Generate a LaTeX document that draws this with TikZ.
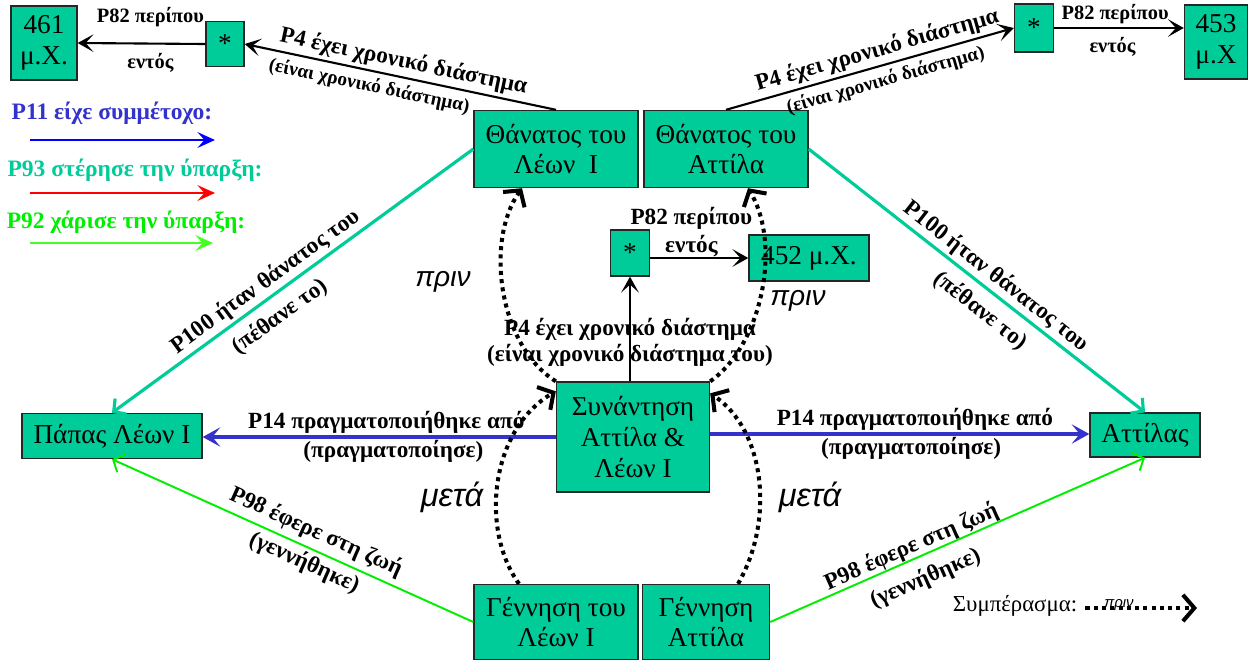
\documentclass[tikz,border=0pt]{standalone}
\usepackage{fontspec}
\setmainfont{Liberation Serif}
\newfontfamily\sansf{Liberation Sans}
\usetikzlibrary{arrows.meta,calc}

\definecolor{cidoc}{HTML}{00CC99}
\definecolor{pblue}{HTML}{3333CC}
\definecolor{pgreen}{HTML}{00EE00}
\definecolor{lblue}{HTML}{0000FF}
\definecolor{lred}{HTML}{FF0000}
\definecolor{lgreen}{HTML}{44FF22}

\tikzset{
  box/.style={draw=black!85, fill=cidoc, line width=0.8pt, inner sep=0pt,
    align=center, font=\fontsize{15.5}{17.5}\selectfont},
  lbl/.style={font=\bfseries\fontsize{13.2}{15}\selectfont, inner sep=1pt},
  smlbl/.style={font=\bfseries\fontsize{11}{13}\selectfont, inner sep=1pt},
  tmlbl/.style={font=\bfseries\fontsize{11.6}{13}\selectfont, inner sep=1pt},
  legend/.style={font=\bfseries\fontsize{13.4}{15}\selectfont, inner sep=0pt},
  blk/.style={draw=black, line width=1.2pt, -{Stealth[length=9pt,width=10pt,inset=4.5pt]}},
  tealarr/.style={draw=cidoc, line width=1.8pt, -{Straight Barb[length=5pt,width=11pt]}},
  bluearr/.style={draw=pblue, line width=2.2pt, -{Stealth[length=10pt,width=11pt,inset=4.5pt]}},
  greenarr/.style={draw=pgreen, line width=1.1pt, -{Straight Barb[length=5pt,width=11pt]}},
  legarr/.style={line width=1.3pt, -{Stealth[length=10pt,width=9pt,inset=4pt]}},
  infer/.style={draw=black, line width=2.3pt, dash pattern=on 2.3pt off 2.4pt,
    -{Straight Barb[length=6.5pt,width=15pt]}},
  itl/.style={font=\sansf\itshape\fontsize{16}{18}\selectfont, inner sep=0pt},
  itlbig/.style={font=\sansf\itshape\fontsize{18.5}{20}\selectfont, inner sep=0pt}
}

\begin{document}
\begin{tikzpicture}[x=0.02cm, y=-0.02cm]
\useasboundingbox (0,0) rectangle (1250,667);

% events and time spans
\node[box, minimum width=1.32cm, minimum height=1.48cm] (b461) at (44,43) {461\\μ.Χ.};
\node[box, minimum width=0.76cm, minimum height=0.90cm] (sL) at (225,44) {*};
\node[box, minimum width=0.78cm, minimum height=0.96cm] (sR) at (1034,28) {*};
\node[box, minimum width=1.26cm, minimum height=1.48cm] (b453) at (1216,42) {453\\μ.Χ};
\node[box, minimum width=3.28cm, minimum height=1.54cm] (dL) at (556,149) {Θάνατος του\\Λέων\ \ Ι};
\node[box, minimum width=3.28cm, minimum height=1.54cm] (dA) at (726,149) {Θάνατος του\\Αττίλα};
\node[box, minimum width=0.78cm, minimum height=0.92cm] (sC) at (630,253) {*};
\node[box, minimum width=2.40cm, minimum height=0.92cm] (b452) at (809,258) {452 μ.Χ.};
\node[box, minimum width=3.06cm, minimum height=2.20cm] (meet) at (633,437) {Συνάντηση\\Αττίλα \&\\Λέων Ι};
\node[box, minimum width=3.60cm, minimum height=0.90cm] (pope) at (112,436) {Πάπας Λέων Ι};
\node[box, minimum width=2.20cm, minimum height=0.88cm] (attila) at (1145,435) {Αττίλας};
\node[box, minimum width=3.28cm, minimum height=1.50cm] (bL) at (556,622) {Γέννηση του\\Λέων Ι};
\node[box, minimum width=2.54cm, minimum height=1.50cm] (bA) at (706,622) {Γέννηση\\Αττίλα};

% time spans of the deaths
\draw[blk] (dL.north) -- (sL.east)
  node[lbl, sloped, pos=0.50, above=1pt] {P4 έχει χρονικό διάστημα}
  node[smlbl, sloped, pos=0.59, below=2pt] {(είναι χρονικό διάστημα)};
\draw[blk] (sL.west) -- (b461.east)
  node[tmlbl, pos=0.43, above=8pt] {P82 περίπου}
  node[tmlbl, pos=0.43, below=4pt] {εντός};
\draw[blk] (dA.north) -- (sR.west)
  node[lbl, sloped, pos=0.54, above=1pt] {P4 έχει χρονικό διάστημα}
  node[smlbl, sloped, pos=0.54, below=2pt] {(είναι χρονικό διάστημα)};
\draw[blk] (sR.east) -- (sR.east -| b453.west)
  node[tmlbl, pos=0.47, above=1pt] {P82 περίπου}
  node[tmlbl, pos=0.45, below=4pt] {εντός};

% deaths
\draw[tealarr] (dL.west) -- (pope.north)
  node[lbl, sloped, pos=0.55, above=0.5pt] {P100 ήταν θάνατος του}
  node[lbl, sloped, pos=0.57, below=4pt] {(πέθανε το)};
\draw[tealarr] (dA.east) -- (attila.north)
  node[lbl, sloped, pos=0.53, above=0.5pt] {P100 ήταν θάνατος του}
  node[lbl, sloped, pos=0.55, below=4pt] {(πέθανε το)};

% meeting
\coordinate (meetE) at ($(meet.east)+(0,-3)$);
\draw[bluearr] (meet.west) -- (meet.west -| pope.east)
  node[lbl, pos=0.48, above=0pt] {P14 πραγματοποιήθηκε από}
  node[lbl, pos=0.46, below=0pt] {(πραγματοποίησε)};
\draw[bluearr] (meetE) -- (meetE -| attila.west)
  node[lbl, pos=0.54, above=0pt] {P14 πραγματοποιήθηκε από}
  node[lbl, pos=0.53, below=0pt] {(πραγματοποίησε)};
\draw[blk] (sC.south |- meet.north) -- (sC.south)
  node[lbl, pos=0.5] {P4 έχει χρονικό διάστημα}
  node[lbl, pos=0.25] {(είναι χρονικό διάστημα του)};
\draw[blk] (sC.east |- b452.west) -- (b452.west)
  node[pos=0.42, above=-1pt, inner sep=1pt, align=center, font=\bfseries\fontsize{13.2}{16}\selectfont] {P82 περίπου\\εντός};

% births
\draw[greenarr] (bL.west) -- (pope.south)
  node[lbl, sloped, pos=0.455, above=2pt] {P98 έφερε στη ζωή}
  node[lbl, sloped, pos=0.45, below=1pt] {(γεννήθηκε)};
\draw[greenarr] (bA.east) -- (attila.south)
  node[lbl, sloped, pos=0.39, above=-1pt] {P98 έφερε στη ζωή}
  node[lbl, sloped, pos=0.39, below=5pt] {(γεννήθηκε)};

% inferred temporal order
\draw[infer] (meet.north west) .. controls (498,345) and (485,240) .. ($(dL.south)+(-34,0)$);
\draw[infer] (meet.north east) .. controls (762,345) and (782,245) .. ($(dA.south)+(22,0)$);
\draw[infer] ($(bL.north)+(-37,0)$) .. controls (480,530) and (490,430) .. ($(meet.north west)+(0,10)$);
\draw[infer] ($(bA.north)+(32,0)$) .. controls (775,520) and (765,430) .. ($(meet.north east)+(0,12)$);
\node[itl] (before1) at (443,282) {πριν};
\node[itl] (before2) at (798,301) {πριν};
\node[itlbig] (after1) at (452,497) {μετά};
\node[itlbig] (after2) at (810,497) {μετά};

% key
\node[legend, text=pblue] (k11) at (112,113) {P11 είχε συμμέτοχο:};
\coordinate (k11a) at (30,140); \coordinate (k11b) at (215,140);
\draw[legarr, lblue] (k11a) -- (k11b);
\node[legend, text=cidoc] (k93) at (135,170) {P93 στέρησε την ύπαρξη:};
\coordinate (k93a) at (30,193); \coordinate (k93b) at (215,193);
\draw[legarr, lred] (k93a) -- (k93b);
\node[legend, text=pgreen] (k92) at (126,222) {P92 χάρισε την ύπαρξη:};
\coordinate (k92a) at (30,243); \coordinate (k92b) at (213,243);
\draw[legarr, lgreen] (k92a) -- (k92b);

\node[font=\fontsize{13}{15}\selectfont, inner sep=0pt] (concl) at (1015,606) {Συμπέρασμα:};
\coordinate (conclEnd) at (1197,608);
\draw[infer] ($(concl.east |- conclEnd)+(8,0)$) -- (conclEnd)
  node[pos=0.3, above=-2.5pt, font=\sansf\itshape\fontsize{8.5}{10}\selectfont, inner sep=0pt] {πριν};
\end{tikzpicture}
\end{document}
